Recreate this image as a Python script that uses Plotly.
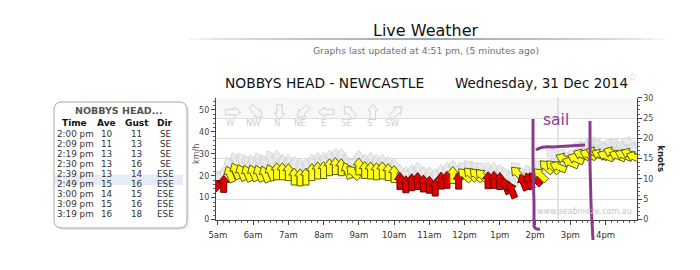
import math
import plotly.graph_objects as go

W, H = 700, 270
DAY = "2014-12-31 "

# ---------------- data ----------------
times = ["05:00", "05:10", "05:20", "05:30", "05:40", "05:50", "06:00", "06:10", "06:20", "06:30",
         "06:40", "06:50", "07:00", "07:10", "07:20", "07:30", "07:40", "07:50", "08:00", "08:10",
         "08:20", "08:30", "08:40", "08:50", "09:00", "09:10", "09:20", "09:30", "09:40", "09:50",
         "10:00", "10:10", "10:20", "10:30", "10:40", "10:50", "11:00", "11:10", "11:20", "11:30",
         "11:40", "11:50", "12:00", "12:10", "12:20", "12:30", "12:40", "12:50", "13:00", "13:10",
         "13:20", "13:30", "13:40", "13:50", "14:00", "14:09", "14:19", "14:30", "14:39", "14:49",
         "15:00", "15:09", "15:19", "15:30", "15:40", "15:50", "16:00", "16:10", "16:20", "16:30",
         "16:40", "16:49"]
ave_kn = [8.3, 8.8, 11.2, 12.0, 11.6, 11.4, 11.5, 11.4, 11.2, 11.6,
          11.9, 11.9, 11.7, 10.6, 10.4, 10.6, 11.7, 12.1, 12.2, 12.9,
          13.2, 12.9, 12.1, 11.6, 13.1, 12.2, 12.1, 11.9, 12.1, 11.7,
          11.2, 9.5, 8.7, 9.2, 9.5, 8.9, 8.6, 7.9, 9.6, 9.8,
          11.0, 9.6, 11.0, 11.2, 11.0, 10.8, 9.7, 9.8, 9.5, 8.3,
          7.3, 11.4, 9.2, 9.5, 10, 11, 13, 13, 13, 15,
          14, 15, 16, 16, 16.5, 16, 15.7, 16.5, 15.7, 15.9,
          16.2, 15.4]
gust_kn = [10.5, 11, 13.5, 14.5, 14.5, 14, 14, 14.5, 14, 15,
           15, 14, 14, 13.5, 13, 13, 14, 14.5, 14.5, 15,
           15.5, 15.5, 14, 13.5, 15, 14, 14.5, 14, 14, 13.5,
           13, 11.5, 11, 11.5, 12, 11, 11, 10.5, 11.5, 12,
           12.5, 11.5, 12.5, 13, 12.5, 12.5, 12, 12, 11.5, 11,
           10, 12.5, 11, 11.5, 11, 13, 13, 16, 14, 16,
           15, 16, 18, 18, 19, 18.5, 17.5, 18.5, 18.5, 18,
           19, 17.5]
dirs = ["SW", "S", "SSE", "SSE", "SSE", "SSE", "SSE", "SSE", "SSE", "SSE",
        "S", "S", "S", "S", "S", "S", "S", "S", "S", "S",
        "S", "S", "SSE", "SE", "S", "S", "S", "S", "S", "S",
        "S", "S", "S", "S", "S", "S", "S", "S", "S", "S",
        "S", "S", "SE", "SE", "SE", "SE", "S", "S", "S", "SSE",
        "SSE", "SE", "SSE", "SSE", "SE", "SE", "SE", "SE", "ESE", "ESE",
        "ESE", "ESE", "ESE", "ESE", "ESE", "ESE", "ESE", "ESE", "ESE", "ESE",
        "ESE", "ESE"]

table_title = "NOBBYS HEAD..."
table_cols = ["Time", "Ave", "Gust", "Dir"]
table_time = ["2:00 pm", "2:09 pm", "2:19 pm", "2:30 pm", "2:39 pm", "2:49 pm", "3:00 pm", "3:09 pm", "3:19 pm"]
table_ave = [10, 11, 13, 13, 13, 15, 14, 15, 16]
table_gust = [11, 13, 13, 16, 14, 16, 15, 16, 18]
table_dir = ["SE", "SE", "SE", "SE", "ESE", "ESE", "ESE", "ESE", "ESE"]
highlight_row = 4
hover_time = "14:39"

xtick_times = ["05:00", "06:00", "07:00", "08:00", "09:00", "10:00", "11:00", "12:00",
               "13:00", "14:00", "15:00", "16:00"]
xtick_text = ["5am", "6am", "7am", "8am", "9am", "10am", "11am", "12pm", "1pm", "2pm", "3pm", "4pm"]
legend_dirs = ["W", "NW", "N", "NE", "E", "SE", "S", "SW"]

page_title = "Live Weather"
page_sub = "Graphs last updated at 4:51 pm, (5 minutes ago)"
chart_title = "NOBBYS HEAD - NEWCASTLE"
chart_date = "Wednesday, 31 Dec 2014"
watermark = "www.seabreeze.com.au"
note_text = "sail"

# ---------------- helpers ----------------
COMPASS = {"N": 0, "NNE": 22.5, "NE": 45, "ENE": 67.5, "E": 90, "ESE": 112.5, "SE": 135,
           "SSE": 157.5, "S": 180, "SSW": 202.5, "SW": 225, "WSW": 247.5, "W": 270,
           "WNW": 292.5, "NW": 315, "NNW": 337.5}

KMH_PER_KNOT = 1.852
KN_MAX = 30


def arrow_path(angle, scale=1.0, L=17, hw=5.5, sw=3.0, hl=7.0, ox=0.0, oy=0.0):
    pts = [(0, L / 2), (hw, L / 2 - hl), (sw, L / 2 - hl), (sw, -L / 2), (-sw, -L / 2),
           (-sw, L / 2 - hl), (-hw, L / 2 - hl)]
    t = math.radians(angle)
    out = []
    for x, y in pts:
        x *= scale
        y *= scale
        xr = x * math.cos(t) + y * math.sin(t) + ox
        yr = -x * math.sin(t) + y * math.cos(t) + oy
        out.append(f"{xr:.2f},{yr:.2f}")
    return "M" + " L".join(out) + " Z"


def px(x, y):
    return x / W, 1 - y / H


def pix_shape(path, **kw):
    d = dict(type="path", xref="paper", yref="paper", xsizemode="pixel", ysizemode="pixel",
             xanchor=0, yanchor=1, path=path)
    d.update(kw)
    return d


def P(x, y):
    return f"{x},{-y}"


shapes = []
annotations = []

# plot geometry (pixels)
PL, PR, PT, PB = 211, 636, 97, 223

# ---------------- background decorations in plot ----------------
shapes.append(dict(type="rect", xref="paper", yref="paper", x0=PL / W, x1=PR / W,
                   y0=1 - 118 / H, y1=1 - PT / H, fillcolor="#f7f7f7", line=dict(width=0), layer="below"))
shapes.append(dict(type="line", xref="x", yref="paper", x0=DAY + hover_time, x1=DAY + hover_time,
                   y0=1 - PB / H, y1=1 - PT / H, line=dict(color="#c8c8c8", width=1), layer="below"))

# ---------------- gust arrows (grey) ----------------
xs = [DAY + t for t in times]
for t, g, d in zip(xs, gust_kn, dirs):
    ang = (COMPASS[d] + 180) % 360
    shapes.append(dict(type="path", xref="x", yref="y2", xsizemode="pixel", ysizemode="pixel",
                       xanchor=t, yanchor=g, path=arrow_path(ang),
                       fillcolor="rgba(228,228,228,0.75)", line=dict(color="rgba(205,205,205,0.7)", width=1)))

# ---------------- average arrows ----------------
for t, a, d in zip(xs, ave_kn, dirs):
    ang = (COMPASS[d] + 180) % 360
    if a > 10:
        fc, lc = "#ffff1a", "#5c5c00"
    else:
        fc, lc = "#e00000", "#6a0000"
    shapes.append(dict(type="path", xref="x", yref="y2", xsizemode="pixel", ysizemode="pixel",
                       xanchor=t, yanchor=a, path=arrow_path(ang),
                       fillcolor=fc, line=dict(color=lc, width=1)))

# ---------------- direction legend at top of plot ----------------
for i, lab in enumerate(legend_dirs):
    cx = 226 + i * 23.3
    ang = (COMPASS[lab] + 180) % 360
    shapes.append(pix_shape(arrow_path(ang, scale=0.9, ox=cx, oy=-108),
                            fillcolor="rgba(255,255,255,0)", line=dict(color="#d2d2d2", width=1)))
    x, y = px(cx, 123)
    annotations.append(dict(x=x, y=y, xref="paper", yref="paper", text=lab, showarrow=False,
                            xanchor="center", yanchor="middle",
                            font=dict(family="DejaVu Sans", size=8.5, color="#cfcfcf")))

# ---------------- page header ----------------
n_seg = 40
x0l, x1l = 182, 658
for i in range(n_seg):
    a0 = x0l + (x1l - x0l) * i / n_seg
    a1 = x0l + (x1l - x0l) * (i + 1) / n_seg
    mid = (i + 0.5) / n_seg
    op = max(0.0, 1 - abs(mid - 0.5) * 2) ** 0.6
    shapes.append(pix_shape(f"M{P(a0, 35)} L{P(a1, 35)}",
                            line=dict(color=f"rgba(150,166,176,{op:.2f})", width=2)))

for text, cx, cy, size, color, anchor in [
    (page_title, 423, 27, 16, "#111111", "center"),
    (page_sub, 423, 48, 9.2, "#707070", "center"),
    (chart_title, 218, 82, 13.8, "#111111", "left"),
    (chart_date, 450, 82, 13.5, "#111111", "left"),
]:
    x, y = px(cx, cy)
    annotations.append(dict(x=x, y=y, xref="paper", yref="paper", text=text, showarrow=False,
                            xanchor=anchor, yanchor="middle",
                            font=dict(family="DejaVu Sans", size=size, color=color)))
x, y = px(632, 76)
annotations.append(dict(x=x, y=y, xref="paper", yref="paper", text="☆", showarrow=False,
                        xanchor="center", yanchor="middle",
                        font=dict(family="DejaVu Sans", size=12, color="#e2cf86")))

# ---------------- axis titles ----------------
x, y = px(192, 155)
annotations.append(dict(x=x, y=y, xref="paper", yref="paper", text="km/h", showarrow=False, textangle=-90,
                        xanchor="center", yanchor="middle",
                        font=dict(family="DejaVu Sans", size=8, color="#555555")))
x, y = px(661, 160)
annotations.append(dict(x=x, y=y, xref="paper", yref="paper", text="<b>knots</b>", showarrow=False,
                        textangle=90, xanchor="center", yanchor="middle",
                        font=dict(family="DejaVu Sans", size=8.5, color="#222222")))

x, y = px(583, 215)
annotations.append(dict(x=x, y=y, xref="paper", yref="paper", text=watermark, showarrow=False,
                        xanchor="center", yanchor="middle",
                        font=dict(family="DejaVu Sans", size=8, color="#c4c4c4")))

# ---------------- table box ----------------
def rrect(x0, y0, x1, y1, r):
    return (f"M{P(x0 + r, y0)} L{P(x1 - r, y0)} Q{P(x1, y0)} {P(x1, y0 + r)} "
            f"L{P(x1, y1 - r)} Q{P(x1, y1)} {P(x1 - r, y1)} L{P(x0 + r, y1)} "
            f"Q{P(x0, y1)} {P(x0, y1 - r)} L{P(x0, y0 + r)} Q{P(x0, y0)} {P(x0 + r, y0)} Z")


shapes.append(pix_shape(rrect(48, 100, 182, 226, 8), fillcolor="#e9e9e9", line=dict(width=0)))
shapes.append(pix_shape(rrect(47, 98, 180, 224, 8), fillcolor="#ffffff", line=dict(color="#a8a8a8", width=1)))
ROW0, ROWSTEP = 134, 10.45
hy = ROW0 + highlight_row * ROWSTEP
shapes.append(pix_shape(f"M{P(48, hy - 5)} L{P(176, hy - 5)} L{P(176, hy + 5.2)} L{P(48, hy + 5.2)} Z",
                        fillcolor="#e6ecf6", line=dict(width=0)))

x, y = px(113, 110)
annotations.append(dict(x=x, y=y, xref="paper", yref="paper", text=f"<b>{table_title}</b>", showarrow=False,
                        xanchor="center", yanchor="middle",
                        font=dict(family="DejaVu Sans", size=9.5, color="#555555")))
header_x = [68, 101, 131, 160]
for cx, lab in zip(header_x, table_cols):
    x, y = px(cx, 123.5)
    annotations.append(dict(x=x, y=y, xref="paper", yref="paper",
                            text=f"<b>{lab}</b>", showarrow=False, xanchor="center", yanchor="middle",
                            font=dict(family="DejaVu Sans", size=9, color="#111111")))
col_x = [(49, "left"), (101, "center"), (131, "center"), (160, "center")]
for i in range(len(table_time)):
    ry = ROW0 + i * ROWSTEP
    row = [table_time[i], str(table_ave[i]), str(table_gust[i]), table_dir[i]]
    for (cx, anc), val in zip(col_x, row):
        x, y = px(cx, ry)
        annotations.append(dict(x=x, y=y, xref="paper", yref="paper", text=val, showarrow=False,
                                xanchor=anc, yanchor="middle", borderpad=0,
                                font=dict(family="DejaVu Sans", size=8.8, color="#333333")))

# ---------------- hand-drawn "sail" marks ----------------
purple = "#8b3b8c"
shapes.append(pix_shape(f"M{P(526, 115)} L{P(526, 160)} L{P(527, 200)} L{P(527, 222)} Q{P(528, 226)} {P(533, 225)}",
                        line=dict(color=purple, width=3)))
shapes.append(pix_shape(f"M{P(583, 117)} L{P(583, 160)} L{P(584, 200)} L{P(586, 236)}",
                        line=dict(color=purple, width=3)))
shapes.append(pix_shape(f"M{P(529, 146)} Q{P(535, 142)} {P(545, 143)} L{P(578, 141)}",
                        line=dict(color=purple, width=3)))
x, y = px(555, 120)
annotations.append(dict(x=x, y=y, xref="paper", yref="paper", text=note_text, showarrow=False,
                        xanchor="center", yanchor="middle",
                        font=dict(family="DejaVu Sans", size=15.5, color=purple)))

# ---------------- traces (carry the axes) ----------------
fig = go.Figure()
fig.add_trace(go.Scatter(x=xs, y=[v * KMH_PER_KNOT for v in ave_kn], yaxis="y", mode="markers",
                         marker=dict(opacity=0), hoverinfo="skip", showlegend=False))
fig.add_trace(go.Scatter(x=xs, y=ave_kn, yaxis="y2", mode="markers",
                         marker=dict(opacity=0), hoverinfo="skip", showlegend=False))

tickfont = dict(family="DejaVu Sans", size=8.5, color="#333333")
fig.update_layout(
    width=W, height=H, margin=dict(l=0, r=0, t=0, b=0),
    paper_bgcolor="white", plot_bgcolor="rgba(0,0,0,0)", showlegend=False,
    xaxis=dict(type="date", domain=[PL / W, PR / W],
               range=[DAY + "04:56:38", DAY + "16:52:55"],
               tickvals=[DAY + t for t in xtick_times], ticktext=xtick_text,
               ticks="outside", ticklen=4, tickcolor="#444444", showline=True, linecolor="#444444",
               linewidth=1, showgrid=False, zeroline=False, tickfont=tickfont, ticklabelstandoff=3,
               minor=dict(ticks="outside", ticklen=2, dtick=600000, tickcolor="#666666", showgrid=False),
               fixedrange=True),
    yaxis=dict(domain=[1 - PB / H, 1 - PT / H], range=[0, KN_MAX * KMH_PER_KNOT],
               tickvals=[0, 10, 20, 30, 40, 50], ticks="outside", ticklen=4, tickcolor="#444444",
               showline=True, linecolor="#444444", linewidth=1, showgrid=False, zeroline=False,
               tickfont=dict(family="DejaVu Sans", size=8, color="#444444"),
               minor=dict(ticks="outside", ticklen=2, dtick=2, tickcolor="#666666", showgrid=False)),
    yaxis2=dict(overlaying="y", side="right", anchor="x", range=[0, KN_MAX],
                tickvals=[0, 5, 10, 15, 20, 25, 30], ticks="outside", ticklen=4, tickcolor="#444444",
                showline=True, linecolor="#444444", linewidth=1, showgrid=True, gridcolor="#dedede",
                zeroline=False, tickfont=dict(family="DejaVu Sans", size=8, color="#444444"),
                minor=dict(ticks="outside", ticklen=2, dtick=1, tickcolor="#666666", showgrid=False)),
    shapes=shapes, annotations=annotations,
)

fig.write_html("out.html")
